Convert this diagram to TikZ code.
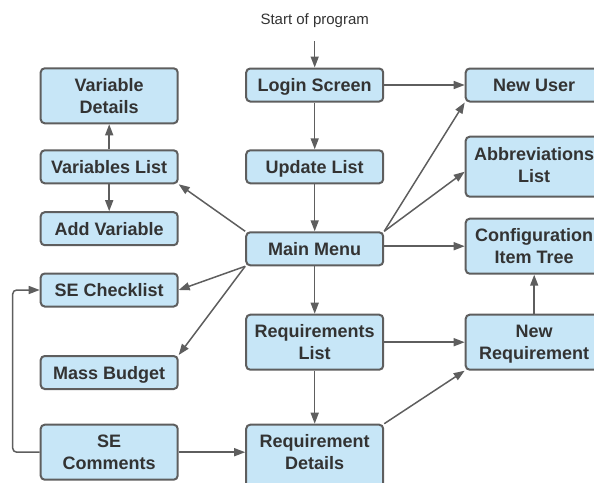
\documentclass[tikz,border=0pt]{standalone}
\usepackage{fontspec}
\setmainfont{Liberation Sans}
\usetikzlibrary{arrows.meta,calc}
\definecolor{boxfill}{HTML}{C7E6F7}
\definecolor{boxline}{HTML}{5E5E5E}
\definecolor{txt}{HTML}{333333}
\definecolor{arr}{HTML}{5E5E5E}
\tikzset{
  box/.style={draw=boxline, fill=boxfill, line width=2pt, rounded corners=4pt,
    minimum width=137pt, inner sep=0pt, align=center, text=txt,
    font=\fontsize{18}{22}\selectfont\bfseries},
  shortbox/.style={box, minimum height=33pt, text height=13pt, text depth=0pt},
  tallbox/.style={box, minimum height=55pt, text height=35pt, text depth=0pt},
  conn/.style={draw=arr, line width=1.5pt, -{Triangle[length=11pt,width=8pt]}},
}
\begin{document}
\begin{tikzpicture}[x=1pt,y=-1pt]
\useasboundingbox (0,0) rectangle (594,482);
\clip (0,0) rectangle (594,482);
\node[text=txt, font=\fontsize{15}{18}\selectfont, text height=11pt, text depth=0pt, inner sep=0pt] (start) at (314.7,19) {Start of program};
\coordinate (s0) at (314.7,41);
% left column
\node[tallbox] (vdet) at (109.2,95.8) {Variable\\Details};
\node[shortbox] (vlist) at (109.2,166.8) {Variables List};
\node[shortbox] (addv) at (109.2,228.7) {Add Variable};
\node[shortbox] (check) at (109.2,290) {SE Checklist};
\node[shortbox] (mass) at (109.2,372.5) {Mass Budget};
\node[tallbox] (comm) at (109.2,452.2) {SE\\Comments};
% middle column
\node[shortbox] (login) at (314.7,85) {Login Screen};
\node[shortbox] (upd) at (314.7,166.8) {Update List};
\node[shortbox] (main) at (314.7,248.8) {Main Menu};
\node[tallbox] (rlist) at (314.7,342.2) {Requirements\\List};
\draw[draw=boxline, fill=boxfill, line width=2pt, rounded corners=4pt] (246.2,424.7) rectangle (383.2,495);
\node[tallbox, draw=none, fill=none] (rdet) at (314.7,452.2) {Requirement\\Details};
% right column
\node[shortbox] (nuser) at (534.2,85) {New User};
\node[tallbox, minimum height=60pt, text height=31pt] (abbr) at (534.2,166.7) {Abbreviations\\List};
\node[tallbox] (conf) at (534.2,246.2) {Configuration\\Item Tree};
\node[tallbox] (nreq) at (534.2,342.2) {New\\Requirement};
% connectors
\draw[conn] (s0) -- (login.north);
\draw[conn] (login.east) -- (nuser.west);
\draw[conn] (login.south) -- (upd.north);
\draw[conn] (upd.south) -- (main.north);
\draw[conn] (main.north west) -- (vlist.south east);
\draw[conn] (vlist.north) -- (vdet.south);
\draw[conn] (vlist.south) -- (addv.north);
\draw[conn] (main.south west) -- (check.east);
\draw[conn] (main.south west) -- (mass.north east);
\draw[conn] (main.north east) -- (nuser.south west);
\draw[conn] (main.north east) -- ([yshift=-5pt]abbr.west);
\draw[conn] (main.east |- conf.west) -- (conf.west);
\draw[conn] (main.south) -- (rlist.north);
\draw[conn] (rlist.east) -- (nreq.west);
\draw[conn] (rlist.south) -- (rdet.north);
\draw[conn] (rdet.north east) -- (nreq.south west);
\draw[conn] (nreq.north) -- (conf.south);
\draw[conn] (comm.east) -- (comm.east -| rdet.west);
\coordinate (lb) at (12.7,452.2);
\coordinate (lt) at (12.7,290);
\draw[conn, rounded corners=4pt] (comm.west) -- (lb) -- (lt) -- (check.west);
\end{tikzpicture}
\end{document}
